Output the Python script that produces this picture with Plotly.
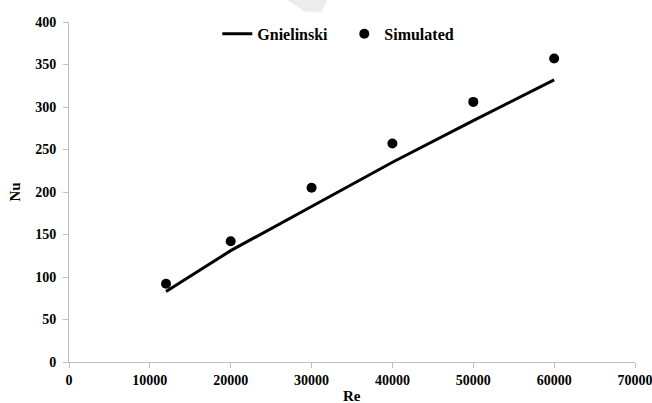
import plotly.graph_objects as go

# Reynolds numbers and Nusselt numbers
re_values = [12000, 20000, 30000, 40000, 50000, 60000]
nu_gnielinski = [83, 131, 183, 235, 284, 332]
nu_simulated = [92, 142, 205, 257, 306, 357]

x_ticks = [0, 10000, 20000, 30000, 40000, 50000, 60000, 70000]
y_ticks = [0, 50, 100, 150, 200, 250, 300, 350, 400]

font_family = "Liberation Serif"
axis_grey = "#bfbfbf"

fig = go.Figure()
fig.add_trace(go.Scatter(
    x=re_values, y=nu_gnielinski, mode="lines", name="Gnielinski",
    line=dict(color="black", width=3),
))
fig.add_trace(go.Scatter(
    x=re_values, y=nu_simulated, mode="markers", name="Simulated",
    marker=dict(color="black", size=10),
))

# faint grey stroke at the top edge
fig.add_shape(
    type="path", xref="paper", yref="paper",
    path="M 0.385 1.065 L 0.456 1.065 L 0.447 1.03 L 0.418 1.03 Z",
    fillcolor="#ececec", line=dict(width=0), layer="below",
)

# x-axis title sits low, near the bottom edge
fig.add_annotation(
    text="<b>Re</b>", xref="paper", yref="paper", x=0.5, y=-0.072,
    xanchor="center", yanchor="top", showarrow=False,
    font=dict(family=font_family, size=15, color="black"),
)

fig.update_layout(
    width=652, height=403,
    margin=dict(l=69, r=17, t=22, b=41, autoexpand=False),
    paper_bgcolor="white", plot_bgcolor="white",
    font=dict(family=font_family, size=14, color="black"),
    showlegend=True,
    legend=dict(
        orientation="h", x=0.262, y=0.965, xanchor="left", yanchor="middle",
        entrywidth=82, entrywidthmode="pixels",
        font=dict(family=font_family, size=16, color="black", weight="bold"),
        bgcolor="rgba(0,0,0,0)",
    ),
    xaxis=dict(
        range=[0, 70000], tickvals=x_ticks, ticktext=[str(v) for v in x_ticks],
        showgrid=False, zeroline=False, showline=True, linecolor=axis_grey, linewidth=1,
        ticks="outside", ticklen=5, tickcolor=axis_grey, tickwidth=1, automargin=False,
        ticklabeloverflow="allow",
        tickfont=dict(family=font_family, size=14, weight="bold"),
    ),
    yaxis=dict(
        range=[0, 400], tickvals=y_ticks, ticktext=[str(v) for v in y_ticks],
        showgrid=False, zeroline=False, showline=True, linecolor=axis_grey, linewidth=1,
        ticks="outside", ticklen=5, tickcolor=axis_grey, tickwidth=1, automargin=False,
        ticklabelstandoff=4,
        tickfont=dict(family=font_family, size=14, weight="bold"),
        title=dict(text="<b>Nu</b>", standoff=10, font=dict(family=font_family, size=15)),
    ),
)

fig.write_html("out.html")
